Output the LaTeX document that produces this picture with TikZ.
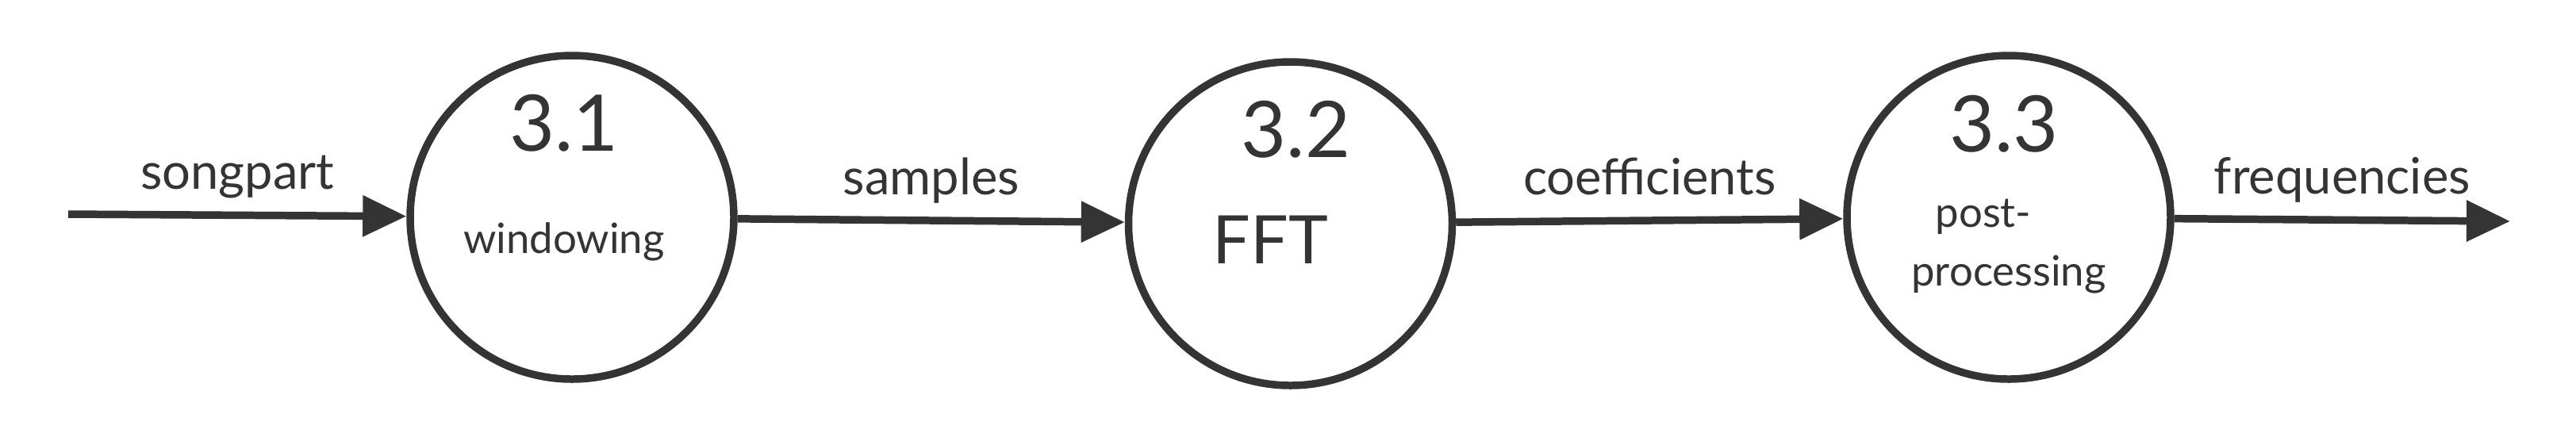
\documentclass[tikz,border=0pt]{standalone}
\usepackage{fontspec}
\setmainfont{Lato}
\usetikzlibrary{arrows.meta,positioning}
\definecolor{ink}{HTML}{343434}

\begin{document}
\begin{tikzpicture}[% styles for the whole picture
        every node/.style={
            align=center,       % so that "\\" works
            text=ink
        },
        process/.style={circle,draw=ink,line width=2.7pt,fill=white,minimum size=4.08cm},
        procnum/.style={anchor=base,font=\fontsize{28}{34}\selectfont},
        proctext/.style={anchor=base,font=\fontsize{15}{18}\selectfont},
        flowlabel/.style={anchor=base,yshift=0.33cm,font=\fontsize{18}{22}\selectfont},
        every edge/.style={draw=ink,line width=2.7pt},
        node distance=4.88cm
    ]
    \useasboundingbox (0,0) rectangle (32.47,-5.5);
    % the three processes
    \node[process](P1) at (7.21,-2.74){};
    \node[process](P2)[right= of P1,yshift=-0.08cm]{};
    \node[process](P3)[right= of P2,yshift=0.08cm]{};
    \node[procnum](N1) at ([xshift=-0.1cm,yshift=0.84cm]P1.center){3.1};
    \node[proctext](T1) at ([xshift=-0.1cm,yshift=-0.45cm]P1.center){windowing};
    \node[procnum](N2) at ([xshift=0.07cm,yshift=0.84cm]P2.center){3.2};
    \node[procnum,font=\fontsize{24}{28}\selectfont](T2) at ([xshift=-0.25cm,yshift=-0.5cm]P2.center){FFT};
    \node[procnum](N3) at ([xshift=-0.06cm,yshift=0.83cm]P3.center){3.3};
    \node[proctext](T3) at ([xshift=-0.32cm,yshift=-0.12cm]P3.center){post-};
    \node[proctext](T4) at ([yshift=-0.86cm]P3.center){processing};
    % free ends of the flows
    \coordinate (in) at (0.86,-2.70);
    \coordinate (out) at (31.64,-2.79);
    \path[-{Triangle[length=0.55cm,width=0.5cm]}]
    (in)edge node[flowlabel]{songpart} (P1)
    (P1)edge node[flowlabel]{samples} (P2)
    (P2)edge node[flowlabel]{coefficients} (P3)
    (P3)edge node[flowlabel]{frequencies} (out)
    ;
\end{tikzpicture}
\end{document}
